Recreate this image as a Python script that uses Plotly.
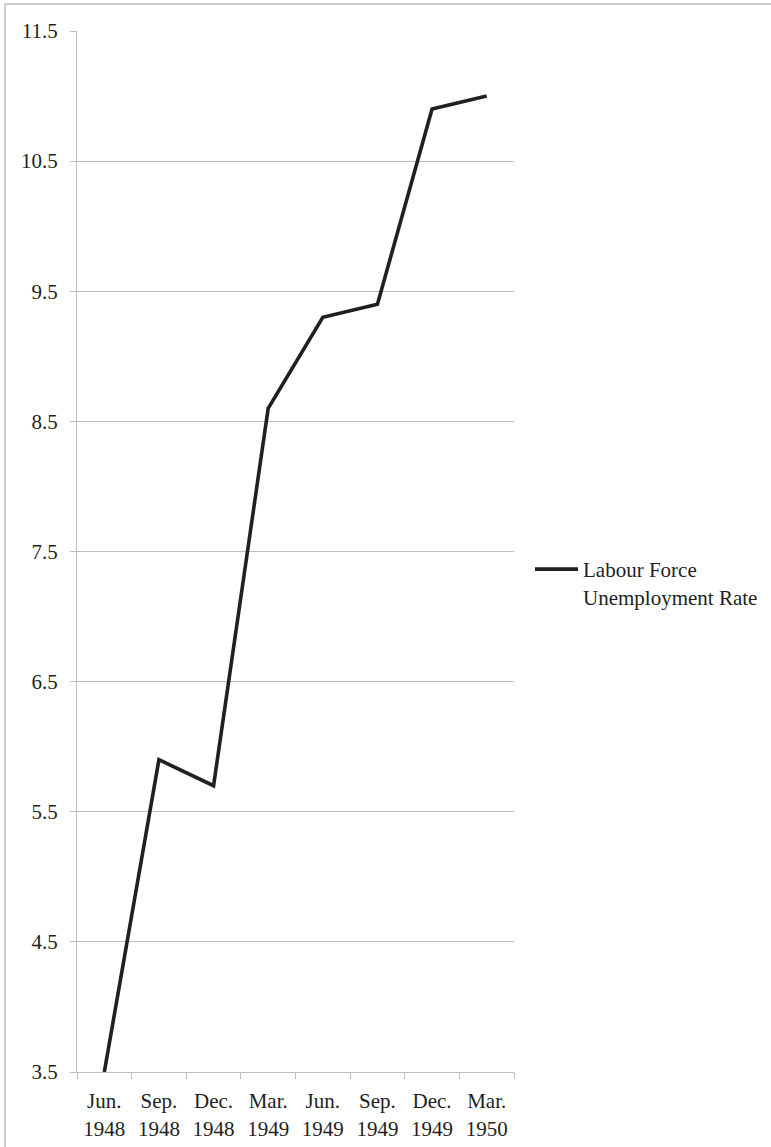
import plotly.graph_objects as go

# Quarterly labour-force unemployment rate, mid-1948 to early 1950
quarters = ["Jun.<br>1948", "Sep.<br>1948", "Dec.<br>1948", "Mar.<br>1949",
            "Jun.<br>1949", "Sep.<br>1949", "Dec.<br>1949", "Mar.<br>1950"]
unemployment_rate = [3.5, 5.9, 5.7, 8.6, 9.3, 9.4, 10.9, 11.0]
y_ticks = [3.5, 4.5, 5.5, 6.5, 7.5, 8.5, 9.5, 10.5, 11.5]

FONT = "Liberation Serif"
GRID = "#bdbdbd"
INK = "#231f20"
FS = 21

W, H = 771, 1147
L, R, T, B = 77, 514, 31, 1072

fig = go.Figure()
fig.add_trace(go.Scatter(
    x=quarters, y=unemployment_rate, mode="lines",
    name="Labour Force<br>Unemployment Rate",
    line=dict(color=INK, width=3.6),
))

fig.update_layout(
    width=W, height=H,
    margin=dict(l=L, r=W - R, t=T, b=H - B, pad=0, autoexpand=False),
    paper_bgcolor="white", plot_bgcolor="white",
    font=dict(family=FONT, size=FS, color=INK),
    showlegend=True,
    legend=dict(
        x=(530 - L) / (R - L), xanchor="left",
        y=(B - 549) / (B - T), yanchor="top",
        valign="top", itemwidth=43,
        font=dict(family=FONT, size=FS, color=INK),
        bgcolor="rgba(0,0,0,0)", borderwidth=0,
    ),
    xaxis=dict(
        type="category", showgrid=False, zeroline=False,
        showline=True, linecolor=GRID, linewidth=1.3,
        ticks="outside", tickson="boundaries", ticklen=6,
        tickcolor=GRID, tickwidth=1.3,
        tickfont=dict(family=FONT, size=FS, color=INK),
        ticklabelstandoff=10, automargin=False,
        range=[-0.5, 7.5],
    ),
    yaxis=dict(
        range=[3.5, 11.5], tickmode="array", tickvals=y_ticks,
        ticktext=[f"{v:.1f}" for v in y_ticks],
        showgrid=True, gridcolor=GRID, gridwidth=1.3,
        zeroline=False, showline=True, linecolor=GRID, linewidth=1.3,
        ticks="outside", ticklen=6, tickcolor=GRID, tickwidth=1.3,
        tickfont=dict(family=FONT, size=FS, color=INK),
        ticklabelstandoff=8, automargin=False,
    ),
)

# Outer frame (left and top edges of the chart box)
x_frame = (5 - L) / (R - L)
y_frame = (B - 4) / (B - T)
fig.add_shape(type="line", xref="paper", yref="paper",
              x0=x_frame, x1=x_frame, y0=y_frame, y1=-1,
              line=dict(color=GRID, width=1.5), layer="below")
fig.add_shape(type="line", xref="paper", yref="paper",
              x0=x_frame, x1=2, y0=y_frame, y1=y_frame,
              line=dict(color=GRID, width=1.5), layer="below")

fig.write_html("out.html")
